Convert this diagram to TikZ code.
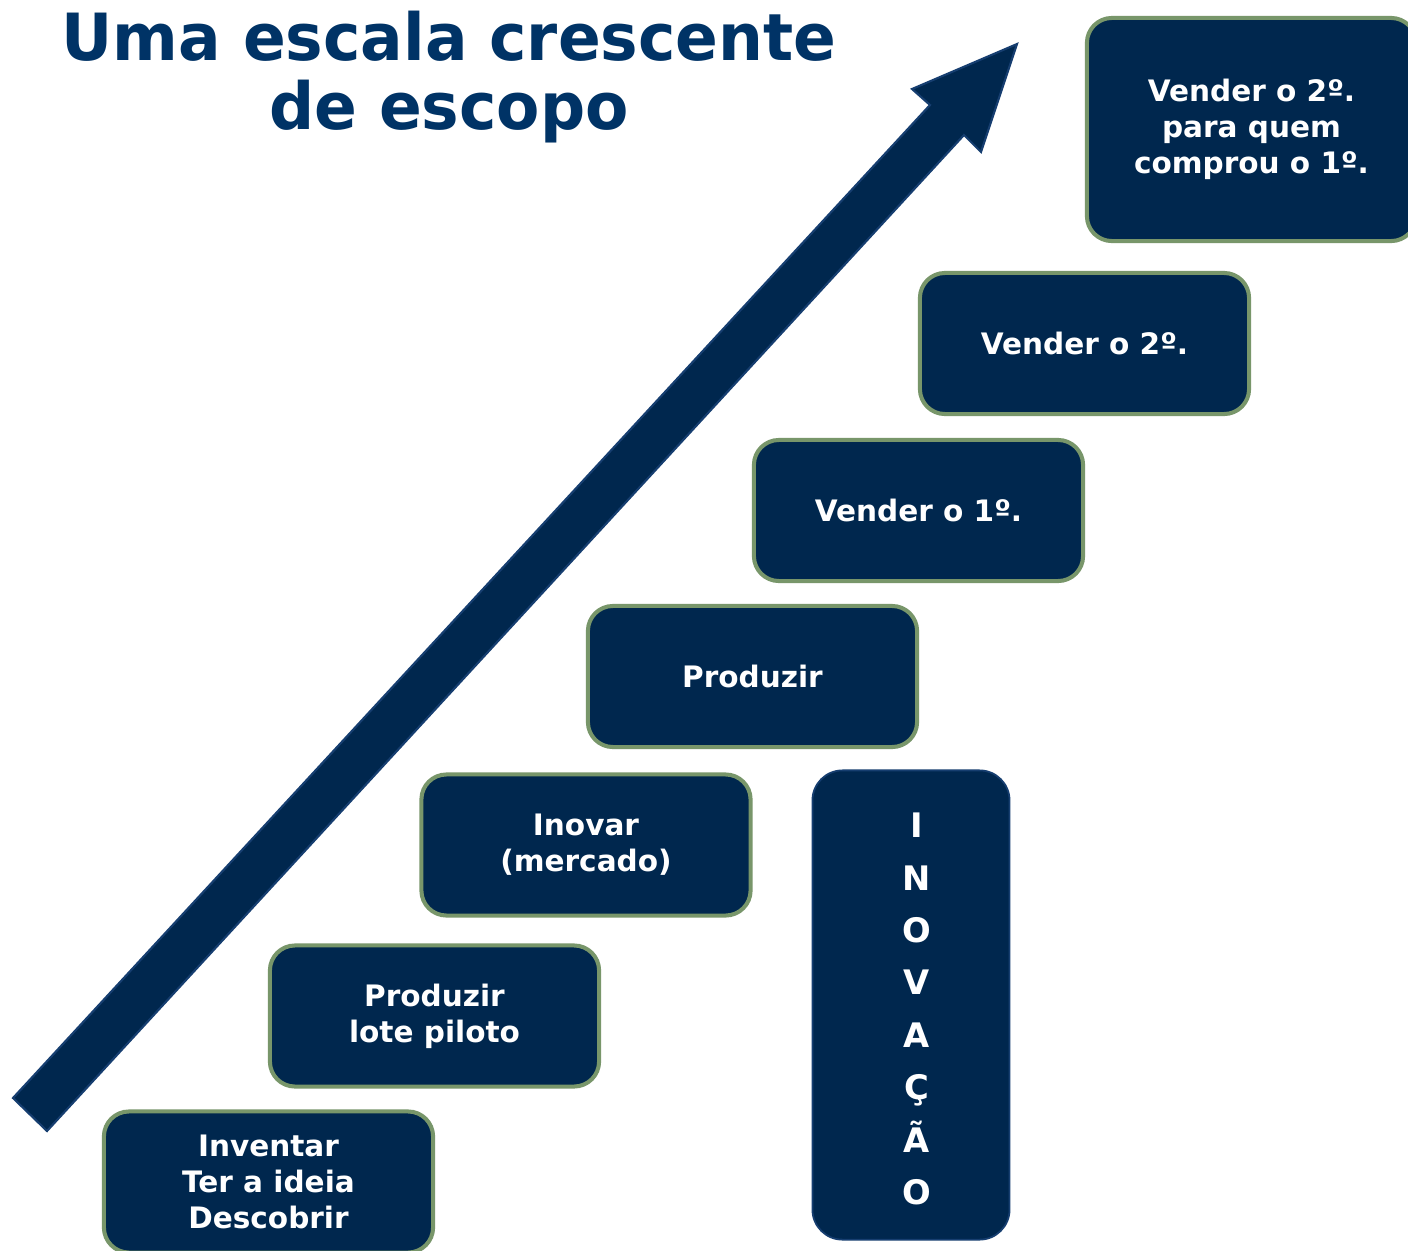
\documentclass[tikz,border=0pt]{standalone}
\usepackage{fontspec}
\setmainfont{DejaVu Sans}
\newfontfamily\titlefont[FakeStretch=0.97]{DejaVu Sans Bold}
\definecolor{navy}{RGB}{0,39,78}
\definecolor{titleblue}{RGB}{0,51,102}
\definecolor{sage}{RGB}{120,150,106}
\definecolor{edgeblue}{RGB}{22,62,112}
\tikzstyle{stepbox} = [rectangle, rounded corners=0.25cm, minimum width=3.29cm, minimum height=1.41cm, align=center, text=white, font=\bfseries\fontsize{8.4}{10.2}\selectfont, draw=sage, line width=1.15pt, fill=navy]
\tikzstyle{tallbox} = [rectangle, rounded corners=0.3cm, minimum width=1.97cm, minimum height=4.69cm, align=center, text=white, font=\bfseries\fontsize{9.6}{14.9}\selectfont, draw=edgeblue, line width=0.5pt, fill=navy]
\tikzstyle{bigarrow} = [fill=navy, draw=edgeblue, line width=0.6pt]

\begin{document}
\begin{tikzpicture}[x=0.01cm,y=-0.01cm]
\useasboundingbox (0,0) rectangle (1408,1251);
\clip (0,0) rectangle (1408,1251);
\fill[white] (0,0) rectangle (1408,1251);

\node[anchor=base, align=center, text=titleblue, font=\titlefont\fontsize{18.5}{19.4}\selectfont] (title) at (449,129) {Uma escala crescente\\de escopo};

\draw[bigarrow] (13,1098)--(930,105)--(912,89)--(1017,44)--(981,152)--(964,135)--(47,1131)--cycle;

\foreach \n/\x/\y/\txt in {inventar/268.5/1182/{Inventar\\Ter a ideia\\Descobrir},
	piloto/434.5/1016/{Produzir\\lote piloto},
	inovar/586/845/{Inovar\\(mercado)},
	produzir/752.5/676.5/{Produzir},
	vender1/918.5/510.5/{Vender o 1º.},
	vender2/1084.5/343.5/{Vender o 2º.}}{
	\node[stepbox] (\n) at (\x,\y) {\txt};
	}
\node[stepbox, minimum height=2.23cm] (recompra) at (1251.5,129.5) {Vender o 2º.\\para quem\\comprou o 1º.};

\node[tallbox] (inovacao) at (911,1005) {};
\node[align=center, text=white, font=\bfseries\fontsize{9.6}{14.9}\selectfont] (vertical) at (917,1009) {I\\N\\O\\V\\A\\Ç\\Ã\\O};
\end{tikzpicture}
\end{document}
